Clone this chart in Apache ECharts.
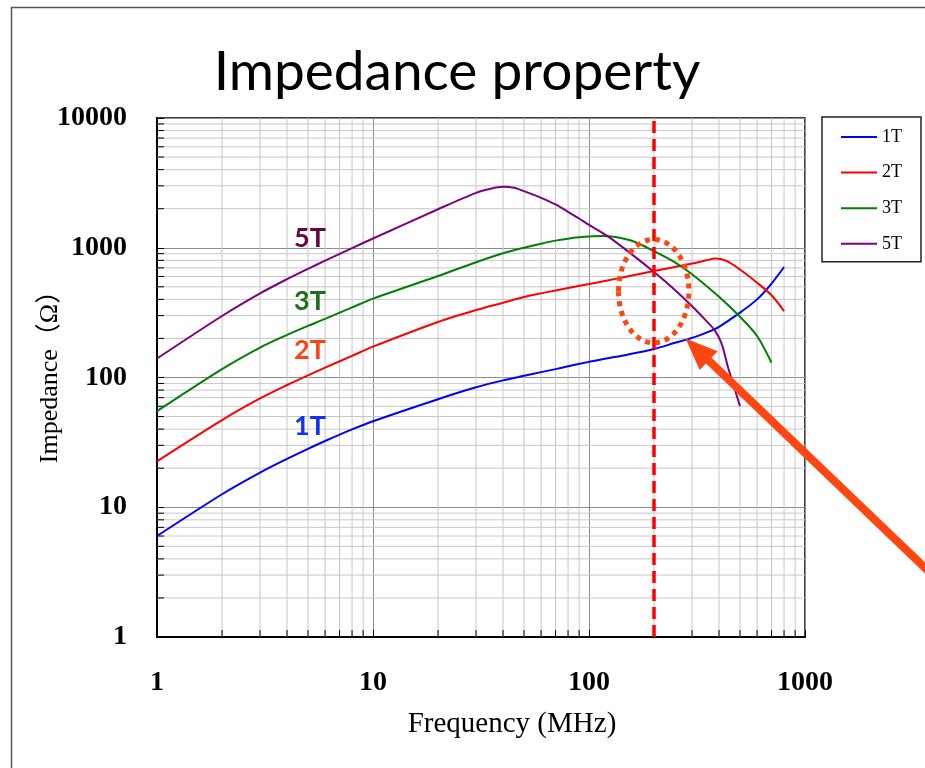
<!DOCTYPE html>
<html>
<head>
<meta charset="utf-8">
<script src="https://cdn.jsdelivr.net/npm/echarts@6/dist/echarts.min.js"></script>
<style>
  html, body { margin: 0; padding: 0; background: #fff; }
  #chart { width: 925px; height: 768px; }
</style>
</head>
<body>
<div id="chart"></div>
<script>
// Impedance vs frequency for ferrite cores with 1, 2, 3 and 5 turns
const seriesNames = ['1T', '2T', '3T', '5T'];
const seriesColors = ['#0000ff', '#ff0000', '#008000', '#800080'];

const freq1T = [1, 2, 3, 4, 5, 6, 8, 10, 20, 30, 40, 50, 60, 70, 80, 100, 120, 150, 200, 250, 300, 350, 400, 500, 600, 700, 800];
const imp1T  = [6.0, 12.6, 18.5, 23.6, 28.2, 32.4, 39.8, 46, 68, 84, 95, 103, 110, 116, 122, 132, 140, 150, 166, 185, 202, 222, 246, 316, 400, 530, 711];

const freq2T = [1, 2, 3, 4, 5, 6, 8, 10, 20, 30, 40, 50, 60, 70, 80, 100, 120, 150, 200, 250, 300, 350, 383, 430, 500, 600, 700, 800];
const imp2T  = [22.6, 47, 69, 87.5, 104, 119, 147, 173, 268, 331, 377, 417, 445, 469, 490, 525, 557, 600, 661, 711, 755, 800, 828, 795, 680, 538, 430, 325];

const freq3T = [1, 2, 3, 4, 5, 6, 8, 10, 20, 30, 40, 50, 60, 70, 80, 90, 100, 115, 130, 160, 200, 250, 300, 400, 500, 600, 700];
const imp3T  = [55, 116, 170, 213, 250, 283, 347, 405, 605, 773, 906, 1000, 1075, 1135, 1175, 1203, 1220, 1230, 1215, 1122, 941, 771, 625, 419, 294, 209, 130];

const freq5T = [1, 2, 3, 4, 5, 6, 8, 10, 20, 30, 35, 40, 45, 50, 60, 70, 80, 90, 100, 120, 150, 200, 250, 300, 350, 380, 410, 440, 470, 500];
const imp5T  = [140, 298, 445, 573, 688, 795, 994, 1178, 1980, 2650, 2850, 2946, 2900, 2730, 2425, 2155, 1890, 1680, 1500, 1250, 950, 650, 473, 354, 272, 234, 185, 120, 84, 60];

// Axis range and the 2..9 sub-decade grid positions
const xRange = [1, 1000];
const yRange = [1, 10000];
const xMinorTicks = [2, 3, 4, 5, 6, 7, 8, 9, 20, 30, 40, 50, 60, 70, 80, 90, 200, 300, 400, 500, 600, 700, 800, 900];
const yMinorTicks = [2, 3, 4, 5, 6, 7, 8, 9, 20, 30, 40, 50, 60, 70, 80, 90, 200, 300, 400, 500, 600, 700, 800, 900,
                     2000, 3000, 4000, 5000, 6000, 7000, 8000, 9000];

// Marked operating frequency (MHz) and the highlighted region around it
const markerFreq = 200;
const highlightFreq = [137, 290];
const highlightImp = [185, 1160];
const arrowTip = [280, 200];

const dataSets = [[freq1T, imp1T], [freq2T, imp2T], [freq3T, imp3T], [freq5T, imp5T]];

const chart = echarts.init(document.getElementById('chart'), null, { renderer: 'canvas' });

const serif = '"Liberation Serif", "Times New Roman", serif';
const MINOR_GRID = '#c8c8c8';

function renderVerticalMinor(params, api) {
  const v = api.value(0);
  const top = api.coord([v, yRange[1]]);
  const bot = api.coord([v, yRange[0]]);
  return {
    type: 'group',
    children: [
      { type: 'line', shape: { x1: top[0], y1: top[1], x2: bot[0], y2: bot[1] },
        style: { stroke: MINOR_GRID, lineWidth: 1 } },
      { type: 'line', shape: { x1: bot[0], y1: bot[1], x2: bot[0], y2: bot[1] - 7 },
        style: { stroke: '#000', lineWidth: 1 } }
    ]
  };
}

function renderHorizontalMinor(params, api) {
  const v = api.value(1);
  const left = api.coord([xRange[0], v]);
  const right = api.coord([xRange[1], v]);
  return {
    type: 'group',
    children: [
      { type: 'line', shape: { x1: left[0], y1: left[1], x2: right[0], y2: right[1] },
        style: { stroke: MINOR_GRID, lineWidth: 1 } },
      { type: 'line', shape: { x1: left[0], y1: left[1], x2: left[0] + 7, y2: left[1] },
        style: { stroke: '#000', lineWidth: 1 } }
    ]
  };
}

const lineSeries = seriesNames.map((name, i) => ({
  name: name,
  type: 'line',
  data: dataSets[i][0].map((f, k) => [f, dataSets[i][1][k]]),
  showSymbol: false,
  symbol: 'none',
  smooth: 0.3,
  z: 3,
  lineStyle: { color: seriesColors[i], width: 2 },
  itemStyle: { color: seriesColors[i] }
}));

// Dashed marker at the operating frequency
lineSeries[lineSeries.length - 1].markLine = {
  silent: true,
  symbol: 'none',
  label: { show: false },
  lineStyle: { color: '#ff0000', width: 3.5, type: [12, 6] },
  data: [{ xAxis: markerFreq }]
};

const plainNumber = v => String(Math.round(v));

const option = {
  animation: false,
  backgroundColor: '#fff',
  title: {
    text: 'Impedance property',
    left: 452,
    top: 40,
    textAlign: 'center',
    textStyle: { fontFamily: 'Lato', fontWeight: 'normal', fontSize: 55, color: '#000' }
  },
  legend: {
    data: seriesNames,
    orient: 'vertical',
    left: 822,
    top: 117,
    icon: 'rect',
    itemWidth: 36,
    itemHeight: 2,
    itemGap: 17.6,
    selectedMode: false,
    padding: [11, 19, 9, 19],
    borderColor: '#222',
    borderWidth: 1.5,
    backgroundColor: '#fff',
    textStyle: { fontFamily: serif, fontSize: 18, color: '#000', lineHeight: 16 }
  },
  grid: {
    left: 157, top: 118, right: 120, bottom: 131,
    show: true, borderColor: '#000', borderWidth: 1.5, backgroundColor: 'transparent'
  },
  xAxis: {
    type: 'log',
    logBase: 10,
    min: xRange[0],
    max: xRange[1],
    name: 'Frequency (MHz)',
    nameLocation: 'middle',
    nameGap: 73,
    nameMoveOverlap: false,
    nameTextStyle: { fontFamily: serif, fontSize: 29, color: '#000', padding: [0, 0, 0, 62] },
    axisLine: { show: true, onZero: false, lineStyle: { color: '#000', width: 2 } },
    axisTick: { show: true, inside: true, length: 7, lineStyle: { color: '#000' } },
    axisLabel: { margin: 32, fontFamily: serif, fontWeight: 'bold', fontSize: 28, color: '#000',
                 formatter: plainNumber },
    splitLine: { show: true, lineStyle: { color: '#8c8c8c', width: 1 } }
  },
  yAxis: {
    type: 'log',
    logBase: 10,
    min: yRange[0],
    max: yRange[1],
    name: 'Impedance（Ω）',
    nameLocation: 'middle',
    nameRotate: 90,
    nameGap: 94,
    nameMoveOverlap: false,
    nameTextStyle: { fontFamily: serif + ', "Noto Sans CJK JP"', fontSize: 26, color: '#000',
                     padding: [0, 0, 0, 14] },
    axisLine: { show: true, onZero: false, lineStyle: { color: '#000', width: 2 } },
    axisTick: { show: true, inside: true, length: 7, lineStyle: { color: '#000' } },
    axisLabel: { margin: 30, fontFamily: serif, fontWeight: 'bold', fontSize: 28, color: '#000',
                 formatter: plainNumber },
    splitLine: { show: true, lineStyle: { color: '#8c8c8c', width: 1 } }
  },
  series: [
    {
      type: 'custom',
      silent: true,
      z: 1,
      renderItem: renderVerticalMinor,
      encode: { x: 0, y: 1 },
      data: xMinorTicks.map(v => [v, yRange[0]])
    },
    {
      type: 'custom',
      silent: true,
      z: 1,
      renderItem: renderHorizontalMinor,
      encode: { x: 0, y: 1 },
      data: yMinorTicks.map(v => [xRange[0], v])
    }
  ].concat(lineSeries)
};

chart.setOption(option);

// Annotations placed from data coordinates
const toPx = p => chart.convertToPixel({ gridIndex: 0 }, p);
const eTL = toPx([highlightFreq[0], highlightImp[1]]);
const eBR = toPx([highlightFreq[1], highlightImp[0]]);
const ecx = (eTL[0] + eBR[0]) / 2, ecy = (eTL[1] + eBR[1]) / 2;
const erx = (eBR[0] - eTL[0]) / 2, ery = (eBR[1] - eTL[1]) / 2;

const tip = toPx(arrowTip);
const dir = [0.722, 0.692];
const nrm = [-dir[1], dir[0]];
const headLen = 32, headHalf = 13, tailLen = 420;
const base = [tip[0] + dir[0] * headLen, tip[1] + dir[1] * headLen];
const tail = [tip[0] + dir[0] * tailLen, tip[1] + dir[1] * tailLen];
const ARROW = '#ff4510';

const labelFont = 'Lato, "Open Sans", sans-serif';
const curveLabels = [
  { text: '5T', x: 310, y: 238, color: '#620a3e' },
  { text: '3T', x: 310, y: 301, color: '#1e6e1e' },
  { text: '2T', x: 310, y: 350, color: '#ff4014' },
  { text: '1T', x: 310, y: 426, color: '#1530f5' }
];

chart.setOption({
  graphic: [
    {
      type: 'rect', silent: true, z: 0,
      shape: { x: 11.5, y: 7.5, width: 1000, height: 1000 },
      style: { fill: 'none', stroke: '#555', lineWidth: 1.5 }
    },
    {
      type: 'ellipse', silent: true, z: 100,
      shape: { cx: ecx, cy: ecy, rx: erx, ry: ery },
      style: { fill: 'none', stroke: ARROW, lineWidth: 5, lineDash: [5, 5] }
    },
    {
      type: 'line', silent: true, z: 100,
      shape: { x1: base[0] - dir[0] * 2, y1: base[1] - dir[1] * 2, x2: tail[0], y2: tail[1] },
      style: { stroke: ARROW, lineWidth: 8 }
    },
    {
      type: 'polygon', silent: true, z: 100,
      shape: { points: [tip,
        [base[0] + nrm[0] * headHalf, base[1] + nrm[1] * headHalf],
        [base[0] - nrm[0] * headHalf, base[1] - nrm[1] * headHalf]] },
      style: { fill: ARROW }
    }
  ].concat(curveLabels.map(l => ({
    type: 'text', silent: true, z: 100,
    x: l.x, y: l.y,
    style: { text: l.text, fill: l.color, font: 'bold 27px ' + labelFont,
             textAlign: 'center', textVerticalAlign: 'middle' }
  })))
});
</script>
</body>
</html>
